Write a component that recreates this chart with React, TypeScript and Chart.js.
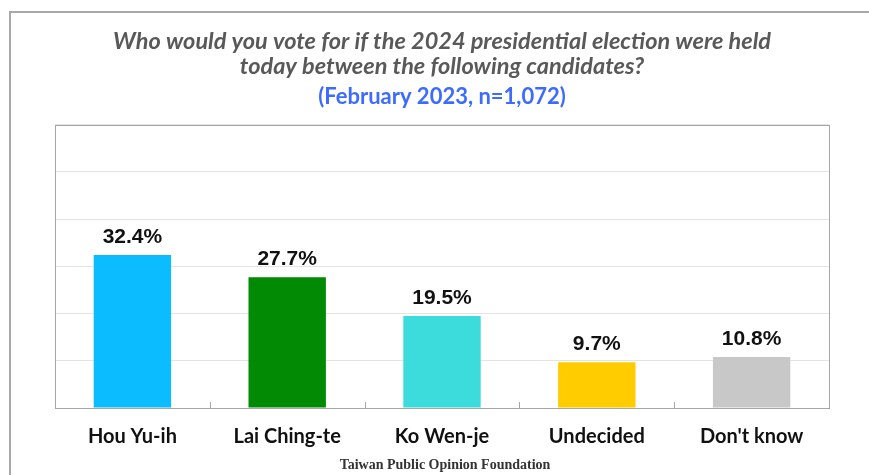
import React, { useEffect, useRef } from "react";
import { Chart, registerables } from "chart.js";

Chart.register(...registerables);

const categories = ["Hou Yu-ih", "Lai Ching-te", "Ko Wen-je", "Undecided", "Don't know"];
const values = [32.4, 27.7, 19.5, 9.7, 10.8];
const barColors = ["#0BBDFF", "#028A04", "#3CDCDC", "#FFCC00", "#C8C8C8"];
const titleLines = [
  "Who would you vote for if the 2024 presidential election were held",
  "today between the following candidates?",
];
const subtitleText = "(February 2023, n=1,072)";
const footerText = "Taiwan Public Opinion Foundation";
const yMax = 60;
const yStep = 10;

const plotDecor = {
  id: "plotDecor",
  afterDatasetsDraw(chart: any) {
    const { ctx, chartArea } = chart;
    const xs = chart.scales.x;
    ctx.save();
    ctx.strokeStyle = "#a6a6a6";
    ctx.lineWidth = 1;
    ctx.strokeRect(
      Math.round(chartArea.left) + 0.5,
      Math.round(chartArea.top) + 0.5,
      Math.round(chartArea.right - chartArea.left),
      Math.round(chartArea.bottom - chartArea.top)
    );
    for (let i = 0; i < categories.length - 1; i++) {
      const x = Math.round((xs.getPixelForValue(i) + xs.getPixelForValue(i + 1)) / 2) + 0.5;
      ctx.beginPath();
      ctx.moveTo(x, chartArea.bottom);
      ctx.lineTo(x, chartArea.bottom - 6);
      ctx.stroke();
    }
    const meta = chart.getDatasetMeta(0);
    ctx.fillStyle = "#111111";
    ctx.font = "bold 21px 'Liberation Sans', Arial, sans-serif";
    ctx.textAlign = "center";
    ctx.textBaseline = "bottom";
    meta.data.forEach((bar: any, i: number) => {
      ctx.fillText(values[i].toFixed(1) + "%", bar.x, bar.y - 7);
    });
    ctx.restore();
  },
};

export default function App() {
  const canvasRef = useRef<HTMLCanvasElement | null>(null);

  useEffect(() => {
    if (!canvasRef.current) return;
    const chart = new Chart(canvasRef.current, {
      type: "bar",
      data: {
        labels: categories,
        datasets: [
          {
            data: values,
            backgroundColor: barColors,
            borderWidth: 0,
            barPercentage: 0.5,
            categoryPercentage: 1.0,
          },
        ],
      },
      options: {
        animation: false,
        responsive: false,
        devicePixelRatio: 1,
        layout: { padding: { left: 55, right: 40, top: 0, bottom: 9 } },
        plugins: {
          legend: { display: false },
          tooltip: { enabled: false },
          title: {
            display: true,
            text: titleLines,
            color: "#595959",
            font: { family: "Lato, 'Open Sans', sans-serif", size: 23.5, weight: "bold", style: "italic", lineHeight: 1.1 },
            padding: { top: 28, bottom: 4 },
          },
          subtitle: {
            display: true,
            text: subtitleText,
            color: "#3D6BFF",
            font: { family: "Lato, 'Open Sans', sans-serif", size: 22, weight: "bold", lineHeight: 1.18 },
            padding: { top: 0, bottom: 15 },
          },
        },
        scales: {
          x: {
            grid: { display: false, drawTicks: false },
            border: { display: false },
            ticks: {
              color: "#111111",
              padding: 17,
              font: { family: "Lato, 'Open Sans', sans-serif", size: 20, weight: "bold" },
            },
          },
          y: {
            min: 0,
            max: yMax,
            ticks: { display: false, stepSize: yStep },
            grid: { color: "#e4e4e4", drawTicks: false },
            border: { display: false },
          },
        },
      },
      plugins: [plotDecor],
    });
    return () => chart.destroy();
  }, []);

  return (
    <div style={{ position: "fixed", left: 0, top: 0, width: 869, height: 475, background: "#ffffff", overflow: "hidden" }}>
      <div
        style={{
          position: "absolute",
          left: 9,
          top: 11,
          width: 900,
          height: 500,
          border: "2px solid #a8a8a8",
          boxSizing: "border-box",
        }}
      />
      <canvas ref={canvasRef} width={869} height={475} style={{ position: "absolute", left: 0, top: 0, width: 869, height: 475 }} />
      <div
        style={{
          position: "absolute",
          left: 445,
          top: 456,
          transform: "translateX(-50%)",
          whiteSpace: "nowrap",
          fontFamily: "'Liberation Serif', 'DejaVu Serif', serif",
          fontWeight: "bold",
          fontSize: 14,
          lineHeight: "18px",
          color: "#333333",
        }}
      >
        {footerText}
      </div>
    </div>
  );
}
